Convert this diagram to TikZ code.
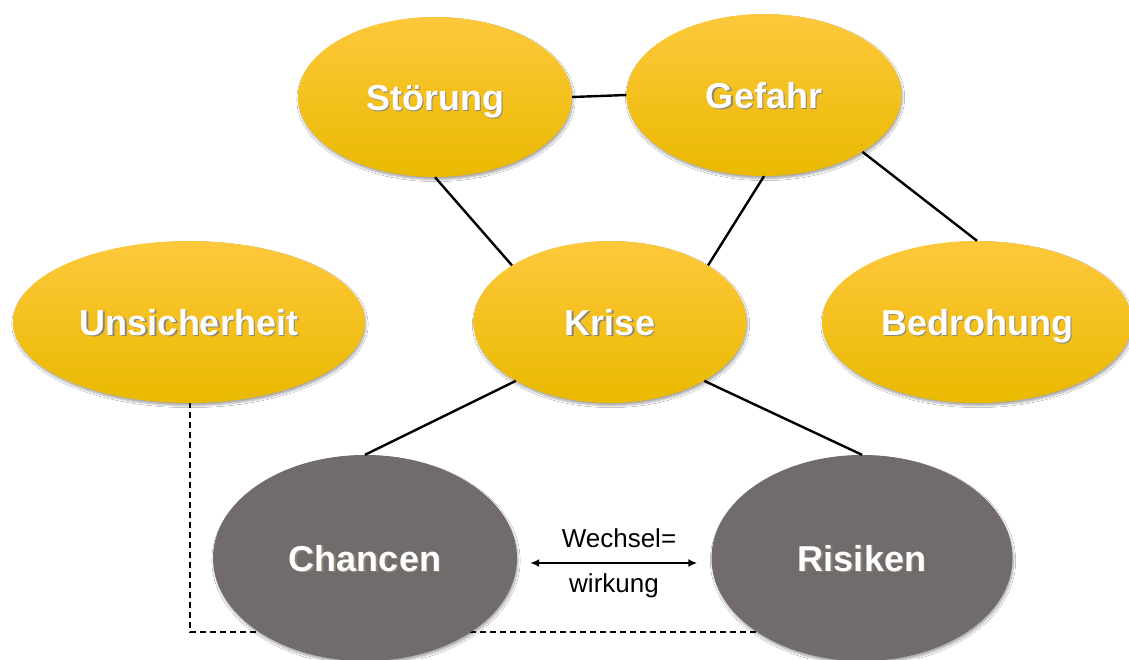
\documentclass[tikz,border=0pt]{standalone}
\usepackage{fontspec}
\setmainfont{Liberation Sans}
\usetikzlibrary{shapes.geometric,arrows.meta,shadows.blur}

\definecolor{yTop}{RGB}{254,200,60}
\definecolor{yMid}{RGB}{252,196,12}
\definecolor{yBot}{RGB}{234,185,0}
\definecolor{gFill}{RGB}{113,108,107}
\definecolor{txtShadow}{RGB}{90,80,60}

% white bold label with a soft dark shadow underneath
\newcommand\shadelabel[1]{%
  \makebox[0pt][l]{\hspace{1.6pt}\raisebox{-1.8pt}{\color{txtShadow!70}#1}}%
  \textcolor{white}{#1}}

\tikzset{
  bubble/.style={ellipse, inner sep=0pt, text height=26pt, text depth=0pt,
    blur shadow={shadow xshift=1pt, shadow yshift=-2.5pt, shadow blur steps=6, shadow opacity=35},
    font=\fontsize{36}{40}\selectfont\bfseries},
  yellowbubble/.style={bubble, top color=yTop, middle color=yMid, bottom color=yBot},
  graybubble/.style={bubble, fill=gFill},
  link/.style={line width=2.4pt, black},
  dashlink/.style={line width=2.3pt, black, dash pattern=on 6pt off 4pt},
  note/.style={font=\fontsize{26}{30}\selectfont, inner sep=0pt}
}

\begin{document}
\begin{tikzpicture}[x=1pt, y=-1pt]
  \clip (0,0) rectangle (1129,659);
  \fill[white] (0,0) rectangle (1129,659);

  % dashed route from Unsicherheit to Risiken, drawn beneath the bubbles
  \coordinate (dashend) at (757,632);
  \coordinate (unsbottom) at (190,402);
  \draw[dashlink] (unsbottom) |- (dashend);

  % the bubbles
  \node[yellowbubble, minimum width=274pt, minimum height=160pt] (stoerung) at (435,97) {\shadelabel{Störung}};
  \node[yellowbubble, minimum width=275pt, minimum height=162pt] (gefahr) at (764,95) {\shadelabel{Gefahr}};
  \node[yellowbubble, minimum width=352pt, minimum height=162pt] (unsicher) at (189,322) {\shadelabel{Unsicherheit}};
  \node[yellowbubble, minimum width=273pt, minimum height=162pt] (krise) at (610,322) {\shadelabel{Krise}};
  \node[yellowbubble, minimum width=310pt, minimum height=162pt] (bedrohung) at (977,322) {\shadelabel{Bedrohung}};
  \node[graybubble, minimum width=304pt, minimum height=206pt] (chancen) at (365,558) {\shadelabel{Chancen}};
  \node[graybubble, minimum width=301pt, minimum height=206pt] (risiken) at (862,558) {\shadelabel{Risiken}};

  % connectors between the bubbles
  \draw[link] (stoerung.east) -- (gefahr.west);
  \draw[link] (stoerung.south) -- (krise.150);
  \draw[link] (gefahr.south) -- (krise.30);
  \draw[link] (gefahr.-30) -- (bedrohung.north);
  \draw[link] (krise.-148) -- (chancen.north);
  \draw[link] (krise.-32) -- (risiken.north);

  % mutual effect between chances and risks
  \draw[line width=1.9pt, {Latex[length=9pt,width=8pt]}-{Latex[length=9pt,width=8pt]},
        shorten <=13pt, shorten >=14pt]
        ([yshift=-5pt]chancen.east) -- ([yshift=-5pt]risiken.west);
  \node[note] (wechsel) at (619,538) {Wechsel=};
  \node[note] (wirkung) at (614,586) {wirkung};
\end{tikzpicture}
\end{document}
